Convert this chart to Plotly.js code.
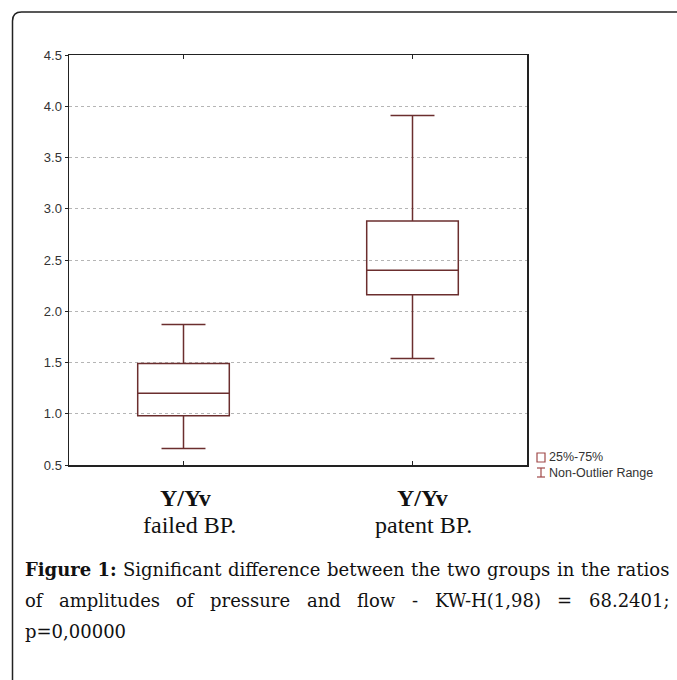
<!DOCTYPE html>
<html>
<head>
<meta charset="utf-8">
<script src="https://cdn.plot.ly/plotly-3.0.1.min.js"></script>
<style>
html,body{margin:0;padding:0;background:#fff;}
#chart{width:677px;height:680px;}
</style>
</head>
<body>
<div id="chart"></div>
<script>
// ---- data ----
const categories = ['failed BP.', 'patent BP.'];
const groupLabel = 'Y/Yv';
const lowerFence = [0.66, 1.54];
const q1 = [0.98, 2.16];
const median = [1.20, 2.40];
const q3 = [1.49, 2.88];
const upperFence = [1.87, 3.91];
const yTickVals = [0.5, 1.0, 1.5, 2.0, 2.5, 3.0, 3.5, 4.0, 4.5];
const legendLabels = ['25%-75%', 'Non-Outlier Range'];
const captionBold = 'Figure 1:';
const captionLines = [
  'Significant difference between the two groups in the ratios',
  'of amplitudes of pressure and flow - KW-H(1,98) = 68.2401;',
  'p=0,00000'
];

// ---- layout geometry (pixels) ----
const W = 677, H = 680;
const PL = 69, PR = 527, PT = 55, PB = 465;
const px = x => (x - PL) / (PR - PL);
const py = y => (PB - y) / (PB - PT);

const boxColor = '#6b2e2e';
const legendColor = '#a04848';
const textGray = '#333333';

const trace = {
  type: 'box',
  x: categories,
  q1: q1, median: median, q3: q3,
  lowerfence: lowerFence, upperfence: upperFence,
  width: 0.4,
  whiskerwidth: 0.48,
  line: {color: boxColor, width: 1.5},
  fillcolor: 'rgba(0,0,0,0)',
  boxpoints: false,
  hoverinfo: 'skip',
  showlegend: false
};

const annotations = [];
const shapes = [];

// x-axis category labels
categories.forEach((c, i) => {
  annotations.push({xref: 'x', yref: 'paper', x: c, y: py(498), xshift: i === 0 ? 2 : 10,
    text: '<b>' + groupLabel + '</b>', showarrow: false, xanchor: 'center', yanchor: 'middle',
    font: {family: 'Liberation Serif', size: 24, color: '#111'}});
  annotations.push({xref: 'x', yref: 'paper', x: c, y: py(525), xshift: i === 0 ? 6 : 11,
    text: c, showarrow: false, xanchor: 'center', yanchor: 'middle',
    font: {family: 'Liberation Serif', size: 24, color: '#111'}});
});

// legend
shapes.push({type: 'rect', xref: 'paper', yref: 'paper', x0: px(537), x1: px(545), y0: py(453), y1: py(462),
  line: {color: legendColor, width: 1.2}, fillcolor: 'rgba(0,0,0,0)'});
shapes.push({type: 'line', xref: 'paper', yref: 'paper', x0: px(541), x1: px(541), y0: py(468), y1: py(477),
  line: {color: legendColor, width: 1.2}});
shapes.push({type: 'line', xref: 'paper', yref: 'paper', x0: px(537), x1: px(545), y0: py(468), y1: py(468),
  line: {color: legendColor, width: 1.2}});
shapes.push({type: 'line', xref: 'paper', yref: 'paper', x0: px(537), x1: px(545), y0: py(477), y1: py(477),
  line: {color: legendColor, width: 1.2}});
legendLabels.forEach((t, i) => {
  annotations.push({xref: 'paper', yref: 'paper', x: px(547), y: py(i === 0 ? 457 : 473), text: t,
    showarrow: false, xanchor: 'left', yanchor: 'middle',
    font: {family: 'Liberation Sans', size: 12.5, color: textGray}});
});

// outer rounded frame
const fx = 12.5, fy = 12, r = 9;
const P = (x, y) => px(x) + ',' + py(y);
shapes.push({type: 'path', xref: 'paper', yref: 'paper',
  path: 'M ' + P(fx, H + 5) + ' L ' + P(fx, fy + r) + ' Q ' + P(fx, fy) + ' ' + P(fx + r, fy) + ' L ' + P(W + 5, fy),
  line: {color: '#222', width: 1.5}});

// caption, justified via canvas measurement
const capFamily = 'DejaVu Serif';
const capLeft = 24, capRight = 668;
const capBaselines = [575, 606, 637];
const ctx = document.createElement('canvas').getContext('2d');
function measure(t, bold, size) {
  ctx.font = (bold ? 'bold ' : '') + size + 'px "' + capFamily + '"';
  return ctx.measureText(t).width;
}
const lineTokens = captionLines.map((l, i) => {
  const toks = l.split(' ').map(w => ({t: w, b: false}));
  return i === 0 ? [{t: captionBold, b: true}].concat(toks) : toks;
});
// choose size so that the first line fits naturally
let capSize = 17;
{
  const natural = lineTokens[0].reduce((s, k, j) => s + measure(k.t, k.b, 20) + (j ? measure(' ', false, 20) : 0), 0);
  capSize = Math.min(18, 20 * (capRight - capLeft) / natural);
}
const spaceW = measure(' ', false, capSize);
lineTokens.forEach((ln, li) => {
  ln.forEach(k => { k.w = measure(k.t, k.b, capSize); });
  const total = ln.reduce((s, k) => s + k.w, 0);
  const last = li === lineTokens.length - 1;
  const gap = (!last && ln.length > 1) ? (capRight - capLeft - total) / (ln.length - 1) : spaceW;
  let x = capLeft;
  ln.forEach(k => {
    annotations.push({xref: 'paper', yref: 'paper', x: px(x), y: py(capBaselines[li] - 6),
      text: k.b ? '<b>' + k.t + '</b>' : k.t, showarrow: false, xanchor: 'left', yanchor: 'middle',
      font: {family: capFamily, size: capSize, color: '#111'}, borderpad: 0});
    x += k.w + gap;
  });
});

const layout = {
  width: W, height: H,
  margin: {l: PL, r: W - PR, t: PT, b: H - PB, pad: 0},
  paper_bgcolor: '#fff', plot_bgcolor: '#fff',
  showlegend: false,
  xaxis: {
    type: 'category', range: [-0.5, 1.5], showticklabels: false,
    ticks: 'inside', ticklen: 4, tickcolor: '#222', mirror: 'ticks',
    showline: true, linecolor: '#222', linewidth: 1.5, showgrid: false, zeroline: false, fixedrange: true
  },
  yaxis: {
    range: [0.5, 4.5], tickvals: yTickVals, tickformat: '.1f',
    ticks: 'outside', ticklen: 3, tickcolor: '#222',
    showline: true, linecolor: '#222', linewidth: 1.5, mirror: true,
    showgrid: true, gridcolor: '#b5b5b5', griddash: 'dot', gridwidth: 1, zeroline: false,
    tickfont: {family: 'Liberation Sans', size: 13, color: textGray}, fixedrange: true
  },
  annotations: annotations,
  shapes: shapes
};

Plotly.newPlot('chart', [trace], layout, {staticPlot: true, displayModeBar: false});
</script>
</body>
</html>
